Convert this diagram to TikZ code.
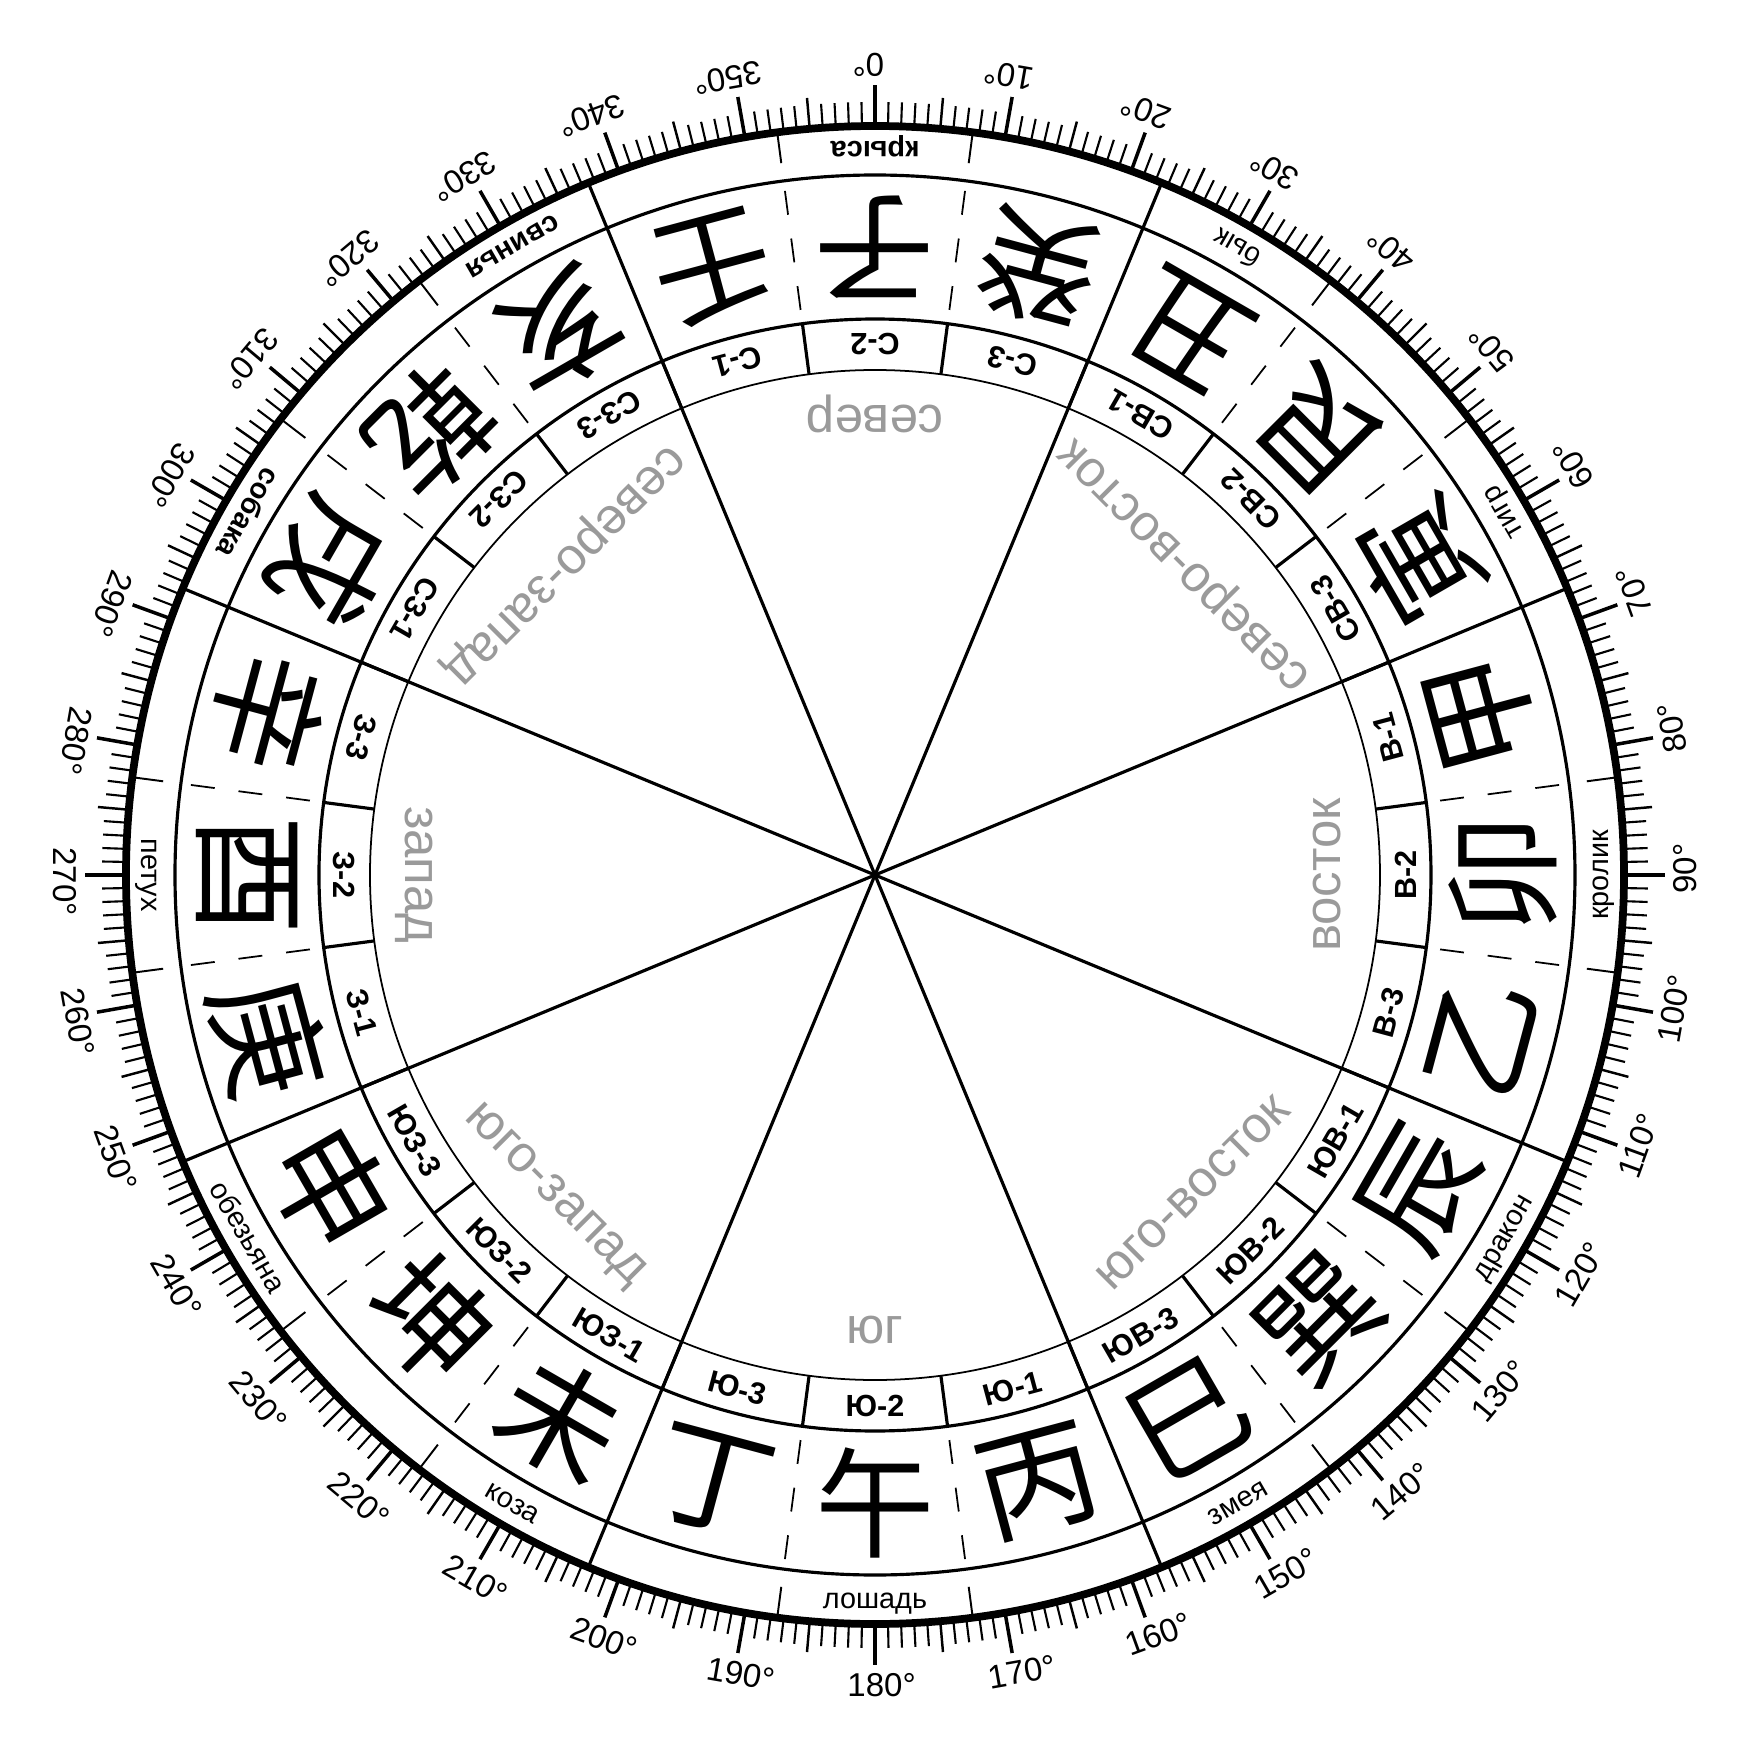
\documentclass[tikz,border=0pt]{standalone}
\usepackage{fontspec}
\setmainfont{Liberation Sans}
\newfontfamily\cjkfont{Noto Sans CJK SC}
\definecolor{dirgray}{HTML}{9A9A9A}
\tikzset{
  thickring/.style={line width=2.2pt},
  ringline/.style={line width=0.9pt},
  thinring/.style={line width=0.5pt},
  dirline/.style={line width=0.9pt},
  tickS/.style={line width=0.6pt},
  tickM/.style={line width=0.7pt},
  tickL/.style={line width=1.0pt},
  dashsep/.style={line width=0.5pt, dash pattern=on 2.4mm off 2.4mm},
  animsep/.style={line width=0.55pt},
  deglab/.style={font=\fontsize{9.4}{10}\selectfont, inner sep=0pt, text height=6.73pt, text depth=0pt},
  seclab/.style={font=\bfseries\fontsize{8.7}{10}\selectfont, inner sep=0pt, text height=6.23pt, text depth=0pt},
  animlab/.style={font=\fontsize{8.2}{10}\selectfont, inner sep=0pt, text height=4.26pt, text depth=0pt},
  animbold/.style={font=\bfseries\fontsize{8.2}{10}\selectfont, inner sep=0pt, text height=4.26pt, text depth=0pt},
  hanzi/.style={font=\cjkfont\fontsize{34}{36}\selectfont, inner sep=0pt},
  dirlab/.style={font=\fontsize{14.5}{16}\selectfont, text=dirgray, inner sep=0pt, text height=7.53pt, text depth=0pt}
}
\begin{document}
\begin{tikzpicture}[x=0.1mm,y=0.1mm]
\useasboundingbox (-875,-875) rectangle (875,875);
\fill[white] (-875,-875) rectangle (875,875);

% degree ticks
\foreach \d in {0,...,359}{
  \pgfmathtruncatemacro\mten{mod(\d,10)}
  \pgfmathtruncatemacro\mfive{mod(\d,5)}
  \ifnum\mten=0
    \draw[tickL] ({90-\d}:748) -- ({90-\d}:790);
  \else\ifnum\mfive=0
    \draw[tickM] ({90-\d}:748) -- ({90-\d}:780);
  \else
    \draw[tickS] ({90-\d}:748) -- ({90-\d}:773);
  \fi\fi
}
% degree labels
\foreach \d in {0,10,...,350}{
  \node[deglab, rotate=180-\d] (deg\d) at ({90-\d}:810) {\d\rlap{°}};
}

% circles
\draw[thickring] (0,0) circle[radius=749];
\draw[ringline] (0,0) circle[radius=700];
\draw[ringline] (0,0) circle[radius=556];
\draw[thinring] (0,0) circle[radius=505];

% eight direction lines
\foreach \a in {22.5,67.5,112.5,157.5}{
  \draw[dirline] ({90-\a}:749) -- ({270-\a}:749);
}

% boundaries between the 24 mountains
\foreach \k in {0,...,23}{
  \pgfmathsetmacro\b{7.5+15*\k}
  \draw[ringline] ({90-\b}:505) -- ({90-\b}:556);
  \pgfmathtruncatemacro\r{mod(\k,3)}
  \ifnum\r=1\else
    \draw[dashsep] ({90-\b}:570) -- ({90-\b}:690);
    \draw[animsep] ({90-\b}:718) -- ({90-\b}:749);
  \fi
}

% sector labels
\foreach \a/\t [count=\i] in {345/С-1,0/С-2,15/С-3,30/СВ-1,45/СВ-2,60/СВ-3,75/В-1,90/В-2,105/В-3,120/ЮВ-1,135/ЮВ-2,150/ЮВ-3,165/Ю-1,180/Ю-2,195/Ю-3,210/ЮЗ-1,225/ЮЗ-2,240/ЮЗ-3,255/З-1,270/З-2,285/З-3,300/СЗ-1,315/СЗ-2,330/СЗ-3}{
  \node[seclab, rotate=180-\a] (sec\i) at ({90-\a}:531) {\t};
}

% hanzi
\foreach \a/\t [count=\i] in {0/子,15/癸,30/丑,45/艮,60/寅,75/甲,90/卯,105/乙,120/辰,135/巽,150/巳,165/丙,180/午,195/丁,210/未,225/坤,240/申,255/庚,270/酉,285/辛,300/戌,315/乾,330/亥,345/壬}{
  \node[hanzi, rotate=180-\a] (hz\i) at ({90-\a}:628) {\t};
}

% animals
\foreach \a/\t [count=\i] in {30/бык,60/тигр,90/кролик,120/дракон,150/змея,180/лошадь,210/коза,240/обезьяна,270/петух}{
  \node[animlab, rotate=180-\a] (an\i) at ({90-\a}:726) {\t};
}
\foreach \a/\t [count=\i] in {0/крыса,300/собака,330/свинья}{
  \node[animbold, rotate=180-\a] (ab\i) at ({90-\a}:726) {\t};
}

% directions
\foreach \a/\t/\r [count=\i] in {0/север/456,45/северо-восток/437,90/восток/452,135/юго-восток/450,180/юг/455,225/юго-запад/450,270/запад/456,315/северо-запад/437}{
  \node[dirlab, rotate=180-\a] (dir\i) at ({90-\a}:\r) {\t};
}
\end{tikzpicture}
\end{document}
